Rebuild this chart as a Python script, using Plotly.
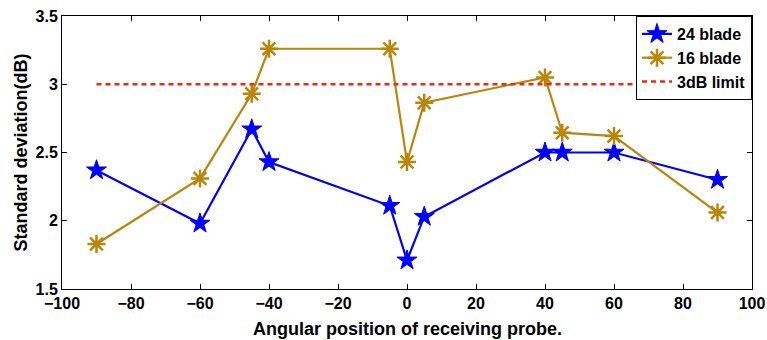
import plotly.graph_objects as go

angles = [-90, -60, -45, -40, -5, 0, 5, 40, 45, 60, 90]
blade24 = [2.37, 1.98, 2.67, 2.43, 2.11, 1.71, 2.03, 2.50, 2.50, 2.50, 2.30]
blade16 = [1.83, 2.31, 2.93, 3.26, 3.26, 2.43, 2.865, 3.05, 2.645, 2.62, 2.06]
limit_x = [-90, 90]
limit_y = [3, 3]
x_ticks = [-100, -80, -60, -40, -20, 0, 20, 40, 60, 80, 100]
y_ticks = [1.5, 2, 2.5, 3, 3.5]
x_title = "Angular position of receiving probe."
y_title = "Standard deviation(dB)"

FONT = "Liberation Sans"
fig = go.Figure()
fig.add_trace(go.Scatter(x=angles, y=blade24, mode="lines+markers", name="24 blade",
                         line=dict(color="#0000FF", width=2.2),
                         marker=dict(symbol="star", size=15, color="#0000FF",
                                     line=dict(color="#0000FF", width=1))))
fig.add_trace(go.Scatter(x=angles, y=blade16, mode="lines+markers", name="16 blade",
                         line=dict(color="#B8860B", width=2.2),
                         marker=dict(symbol="asterisk-open", size=15,
                                     line=dict(color="#B8860B", width=2.5))))
fig.add_trace(go.Scatter(x=limit_x, y=limit_y, mode="lines", name="3dB limit",
                         line=dict(color="#F02810", width=2.5, dash="5px,4px")))

axis_common = dict(showline=True, linecolor="black", linewidth=1, mirror="ticks",
                   ticks="inside", ticklen=5, tickcolor="black", showgrid=False,
                   zeroline=False, automargin=False,
                   tickfont=dict(family=FONT, size=16, color="black", weight="bold"))
fig.update_xaxes(range=[-100, 100], tickvals=x_ticks, **axis_common)
fig.update_yaxes(range=[1.5, 3.5], tickvals=y_ticks, ticklabelstandoff=0, **axis_common)

title_font = dict(family=FONT, size=18, color="black", weight="bold")
fig.add_annotation(text=x_title, xref="paper", yref="paper", x=0.5, y=-0.145,
                   xanchor="center", yanchor="middle", showarrow=False, font=title_font)
fig.add_annotation(text=y_title, xref="paper", yref="paper", x=-0.0595, y=0.5,
                   xanchor="center", yanchor="middle", showarrow=False, textangle=-90,
                   font=title_font)

fig.update_layout(width=767, height=340, margin=dict(l=62, r=15, t=16, b=51),
                  paper_bgcolor="white", plot_bgcolor="white",
                  showlegend=True,
                  legend=dict(x=1.0, y=1.0, xanchor="right", yanchor="top",
                              bgcolor="white", bordercolor="black", borderwidth=1,
                              font=dict(family=FONT, size=16, color="black", weight="bold"),
                              tracegroupgap=0, itemwidth=30))
fig.write_html("out.html", config={"displayModeBar": False},
               post_script="document.body.style.margin='0';document.body.style.overflow='hidden';")
